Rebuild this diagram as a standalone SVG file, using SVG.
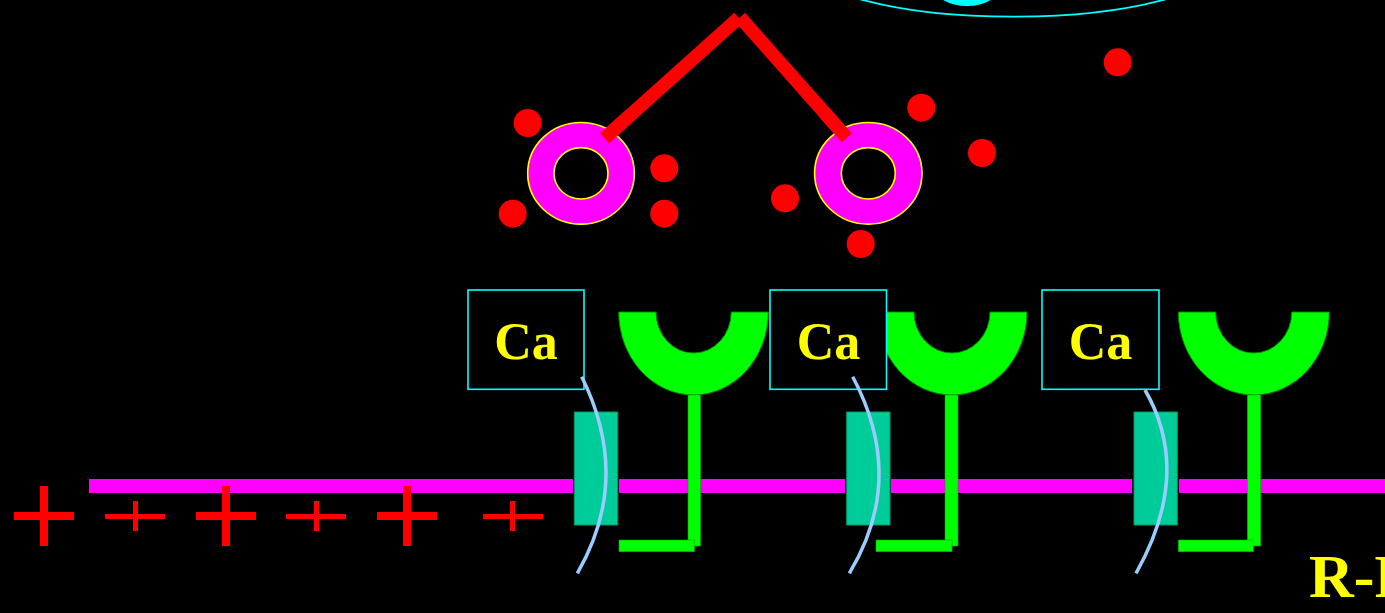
<svg xmlns="http://www.w3.org/2000/svg" width="1385" height="613" viewBox="0 0 1385 613">
  <style>
    .membrane { fill: #FF00FF; }
    .cup { fill: #00FF00; stroke: #008800; stroke-width: 1; }
    .stem { fill: #00FF00; stroke: #00AA00; stroke-width: 0.6; }
    .channel { fill: #00CC99; stroke: #009966; stroke-width: 1; }
    .cabox { fill: #000000; stroke: #00FFFF; stroke-width: 1.6; }
    .calabel { font-family: "Liberation Serif", "Times New Roman", serif; font-weight: bold; font-size: 52px; fill: #FFFF00; text-anchor: middle; }
    .flow { fill: none; stroke: #99CCFF; stroke-width: 3.5; }
    .charge { fill: #FF0000; }
    .dot { fill: #FF0000; }
    .vesicle { fill: #FF00FF; stroke: #FFFF00; stroke-width: 1.6; fill-rule: evenodd; }
    .link { stroke: #FF0000; stroke-width: 13.5; stroke-linecap: butt; fill: none; }
  </style>

  <rect x="0" y="0" width="1385" height="613" fill="#000000"/>

  <!-- cell outline at the top edge -->
  <g id="cell-top">
    <ellipse cx="1013" cy="-39" rx="210" ry="55.7" fill="none" stroke="#00FFFF" stroke-width="1.8"/>
    <ellipse cx="967" cy="-14" rx="33" ry="20" fill="#00FFFF"/>
  </g>

  <!-- membrane with gaps at the channels -->
  <g id="membrane">
    <rect class="membrane" x="89" y="479" width="484" height="14"/>
    <rect class="membrane" x="619" y="479" width="226" height="14"/>
    <rect class="membrane" x="891" y="479" width="241" height="14"/>
    <rect class="membrane" x="1179" y="479" width="206" height="14"/>
  </g>

  <!-- positive charges below the membrane -->
  <g id="charges">
    <rect class="charge" x="40" y="486" width="8" height="60"/>
    <rect class="charge" x="14" y="512" width="60" height="8"/>
    <rect class="charge" x="133" y="501" width="5" height="30"/>
    <rect class="charge" x="105" y="514" width="60" height="5"/>
    <rect class="charge" x="222" y="486" width="8" height="60"/>
    <rect class="charge" x="196" y="512" width="60" height="8"/>
    <rect class="charge" x="314" y="501" width="5" height="30"/>
    <rect class="charge" x="286" y="514" width="60" height="5"/>
    <rect class="charge" x="403" y="486" width="8" height="60"/>
    <rect class="charge" x="377" y="512" width="60" height="8"/>
    <rect class="charge" x="510" y="501" width="5" height="30"/>
    <rect class="charge" x="483" y="514" width="60" height="5"/>
  </g>

  <!-- receptor 1 -->
  <g id="receptor-1">
    <path class="cup" d="M618.7,312 A74.8,83 0 0 0 768.3,312 L731.2,312 A37.6,41 0 0 1 656,312 Z"/>
    <rect class="stem" x="688" y="395" width="12.5" height="151"/>
    <rect class="stem" x="619" y="540" width="75.5" height="11.7"/>
  </g>
  <!-- receptor 2 -->
  <g id="receptor-2">
    <path class="cup" d="M877,312 A75,83 0 0 0 1027,312 L990,312 A38,41 0 0 1 914,312 Z"/>
    <rect class="stem" x="945" y="395" width="13" height="151"/>
    <rect class="stem" x="876" y="540" width="76" height="11.7"/>
  </g>
  <!-- receptor 3 -->
  <g id="receptor-3">
    <path class="cup" d="M1178.3,312 A75.5,83 0 0 0 1329.3,312 L1291.7,312 A38,41 0 0 1 1215.7,312 Z"/>
    <rect class="stem" x="1247.3" y="395" width="13.4" height="151"/>
    <rect class="stem" x="1178.3" y="540" width="75" height="11.7"/>
  </g>

  <!-- calcium channels -->
  <g id="channel-1">
    <rect class="channel" x="574.3" y="412" width="43.4" height="113"/>
  </g>
  <g id="channel-2">
    <rect class="channel" x="846.7" y="412" width="43.3" height="113"/>
  </g>
  <g id="channel-3">
    <rect class="channel" x="1134" y="412" width="43.3" height="113"/>
  </g>

  <!-- Ca labels -->
  <g id="ca-1">
    <rect class="cabox" x="468" y="290" width="116" height="99.3"/>
    <text class="calabel" x="526" y="359">Ca</text>
  </g>
  <g id="ca-2">
    <rect class="cabox" x="770" y="290" width="116.5" height="99.3"/>
    <text class="calabel" x="828.5" y="359">Ca</text>
  </g>
  <g id="ca-3">
    <rect class="cabox" x="1042" y="290" width="117" height="99.3"/>
    <text class="calabel" x="1100.5" y="359">Ca</text>
  </g>

  <!-- ion paths through the channels -->
  <g id="connectors">
    <path class="flow" d="M581.7,376.7 Q632.4,478.4 577.3,573.3"/>
    <path class="flow" d="M852.7,376.7 Q907,478.4 849.3,573.3"/>
    <path class="flow" d="M1145,390 Q1192.9,472.5 1136,573.3"/>
    <line class="link" x1="604.5" y1="138.3" x2="738.8" y2="17.7"/>
    <line class="link" x1="740" y1="17.2" x2="846.7" y2="137.8"/>
  </g>

  <!-- vesicles -->
  <g id="vesicle-1">
    <path class="vesicle" d="M527.7,173.3 a53.3,50.8 0 1 0 106.6,0 a53.3,50.8 0 1 0 -106.6,0 Z M554,173.3 a27,25.7 0 1 0 54,0 a27,25.7 0 1 0 -54,0 Z"/>
  </g>
  <g id="vesicle-2">
    <path class="vesicle" d="M814.6,173.3 a53.7,50.8 0 1 0 107.4,0 a53.7,50.8 0 1 0 -107.4,0 Z M841.3,173.3 a27,25.7 0 1 0 54,0 a27,25.7 0 1 0 -54,0 Z"/>
  </g>
  <!-- redraw link ends over the vesicles -->
  <g id="link-ends">
    <line class="link" x1="604.5" y1="138.3" x2="630" y2="115.4"/>
    <line class="link" x1="846.7" y1="137.8" x2="824" y2="112.2"/>
  </g>

  <!-- transmitter molecules -->
  <g id="molecules">
    <circle class="dot" cx="527.7" cy="123" r="14"/>
    <circle class="dot" cx="512.7" cy="213.7" r="14"/>
    <circle class="dot" cx="664.3" cy="168.3" r="14"/>
    <circle class="dot" cx="664.3" cy="213.7" r="14"/>
    <circle class="dot" cx="785" cy="198.3" r="14"/>
    <circle class="dot" cx="921.3" cy="107.7" r="14"/>
    <circle class="dot" cx="860.7" cy="244" r="14"/>
    <circle class="dot" cx="982" cy="153" r="14"/>
    <circle class="dot" cx="1117.7" cy="62.3" r="14"/>
  </g>

  <g id="label-r">
    <text x="1309" y="597" font-family="'Liberation Serif', 'Times New Roman', serif" font-weight="bold" font-size="62" fill="#FFFF00">R-P</text>
  </g>
</svg>
